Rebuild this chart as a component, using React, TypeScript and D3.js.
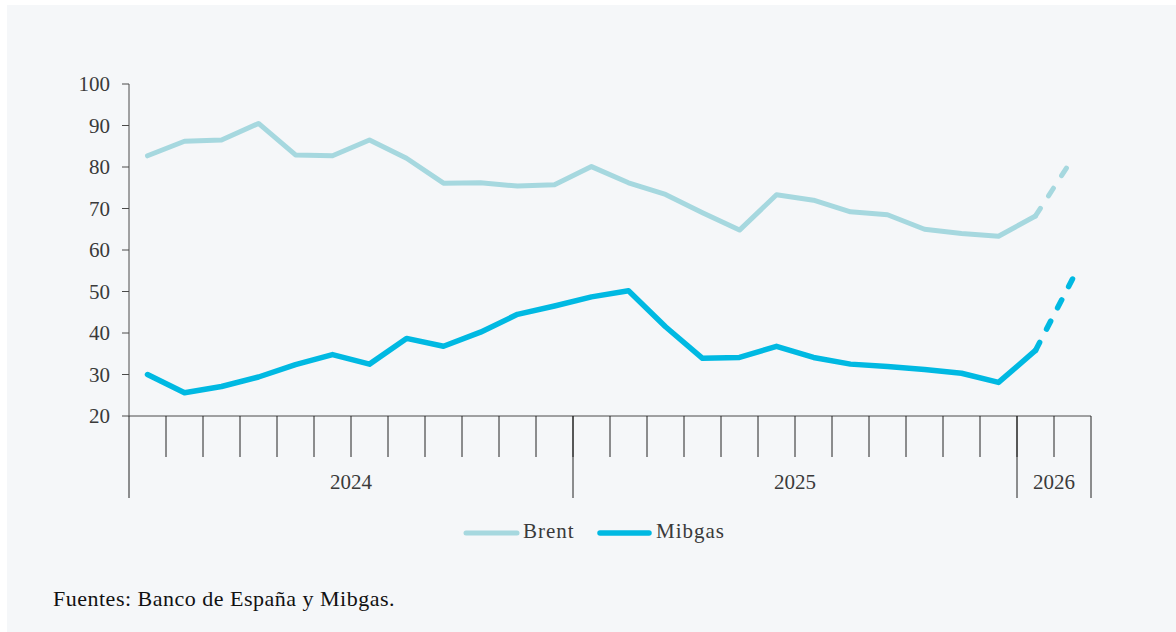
import React from "react";
import * as d3 from "d3";

const categories = [
  "2024-01","2024-02","2024-03","2024-04","2024-05","2024-06","2024-07","2024-08","2024-09","2024-10","2024-11","2024-12",
  "2025-01","2025-02","2025-03","2025-04","2025-05","2025-06","2025-07","2025-08","2025-09","2025-10","2025-11","2025-12",
  "2026-01","2026-02",
];
const years = ["2024", "2025", "2026"];
const brent = [82.7, 86.2, 86.5, 90.5, 82.9, 82.7, 86.5, 82.1, 76.1, 76.2, 75.4, 75.7, 80.1, 76.2, 73.4, 69.0, 64.8, 73.3, 72.0, 69.2, 68.5, 65.0, 64.0, 63.3, 68.2, 82.0];
const mibgas = [30.0, 25.6, 27.1, 29.4, 32.4, 34.8, 32.5, 38.7, 36.8, 40.2, 44.5, 46.5, 48.7, 50.2, 41.5, 33.9, 34.1, 36.8, 34.1, 32.5, 31.9, 31.2, 30.3, 28.1, 35.8, 53.0];
const yTicks = [20, 30, 40, 50, 60, 70, 80, 90, 100];
const seriesNames = ["Brent", "Mibgas"];
const source = "Fuentes: Banco de España y Mibgas.";

const BRENT_COLOR = "#a6d8df";
const MIBGAS_COLOR = "#00b9e2";
const AXIS_COLOR = "#4a4a4a";
const TEXT_COLOR = "#3a3a3a";
const TICK_FONT = "'Liberation Serif', serif";

export default function App() {
  const W = 1176, H = 632;
  const x = d3.scaleBand<string>().domain(categories).range([129, 1091]).padding(0);
  const y = d3.scaleLinear().domain([20, 100]).range([416, 84]);
  const cx = (c: string) => (x(c) as number) + x.bandwidth() / 2;
  const line = d3.line<[string, number]>().x((d) => cx(d[0])).y((d) => y(d[1]));

  const n = categories.length;
  const mk = (vals: number[]) => categories.map((c, i) => [c, vals[i]] as [string, number]);
  const bData = mk(brent);
  const mData = mk(mibgas);

  const yearGroups = years.map((yr) => {
    const cs = categories.filter((c) => c.startsWith(yr));
    const x0 = x(cs[0]) as number;
    const x1 = (x(cs[cs.length - 1]) as number) + x.bandwidth();
    return { yr, x0, x1 };
  });

  const axisY = y(20);

  return (
    <svg width={W} height={H} style={{ position: "absolute", left: 0, top: 0 }}>
      <rect x={0} y={0} width={W} height={H} fill="#ffffff" />
      <rect x={7} y={5} width={W - 7} height={H - 5} fill="#f5f7f9" />

      {/* y axis */}
      <line x1={129} x2={129} y1={y(100)} y2={axisY} stroke={AXIS_COLOR} strokeWidth={1} />
      {yTicks.map((t) => (
        <g key={t}>
          <line x1={122} x2={129} y1={y(t)} y2={y(t)} stroke={AXIS_COLOR} strokeWidth={1} />
          <text x={110} y={y(t)} dy="0.35em" textAnchor="end" fontFamily={TICK_FONT} fontSize={21} fill={TEXT_COLOR}>
            {t}
          </text>
        </g>
      ))}

      {/* x axis */}
      <line x1={129} x2={1091} y1={axisY} y2={axisY} stroke={AXIS_COLOR} strokeWidth={1} />
      {categories.map((c, i) =>
        i === 0 ? null : (
          <line key={c} x1={x(c) as number} x2={x(c) as number} y1={axisY} y2={axisY + 41} stroke="#222" strokeWidth={1} />
        )
      )}
      {yearGroups.map((g, i) => (
        <g key={g.yr}>
          <line x1={g.x0} x2={g.x0} y1={axisY} y2={axisY + 82} stroke="#222" strokeWidth={1} />
          {i === yearGroups.length - 1 && (
            <line x1={g.x1} x2={g.x1} y1={axisY} y2={axisY + 82} stroke="#222" strokeWidth={1} />
          )}
          <text x={(g.x0 + g.x1) / 2} y={axisY + 73} textAnchor="middle" fontFamily={TICK_FONT} fontSize={21} fill={TEXT_COLOR}>
            {g.yr}
          </text>
        </g>
      ))}

      {/* series */}
      <path d={line(bData.slice(0, n - 1)) as string} fill="none" stroke={BRENT_COLOR} strokeWidth={5} strokeLinejoin="round" strokeLinecap="round" />
      <path d={line(bData.slice(n - 2)) as string} fill="none" stroke={BRENT_COLOR} strokeWidth={5} strokeDasharray="9,15" strokeLinecap="round" />
      <path d={line(mData.slice(0, n - 1)) as string} fill="none" stroke={MIBGAS_COLOR} strokeWidth={5.5} strokeLinejoin="round" strokeLinecap="round" />
      <path d={line(mData.slice(n - 2)) as string} fill="none" stroke={MIBGAS_COLOR} strokeWidth={5.5} strokeDasharray="9,15" strokeLinecap="round" />

      {/* legend */}
      <line x1={466} x2={517} y1={533} y2={533} stroke={BRENT_COLOR} strokeWidth={5} strokeLinecap="round" />
      <text x={523} y={538} fontFamily={TICK_FONT} fontSize={21} letterSpacing={1} fill={TEXT_COLOR}>{seriesNames[0]}</text>
      <line x1={600} x2={649} y1={533} y2={533} stroke={MIBGAS_COLOR} strokeWidth={5.5} strokeLinecap="round" />
      <text x={656} y={538} fontFamily={TICK_FONT} fontSize={21} letterSpacing={1} fill={TEXT_COLOR}>{seriesNames[1]}</text>

      {/* source */}
      <text x={53} y={606} fontFamily={TICK_FONT} fontSize={22} letterSpacing={0.5} fill="#111">{source}</text>
    </svg>
  );
}
